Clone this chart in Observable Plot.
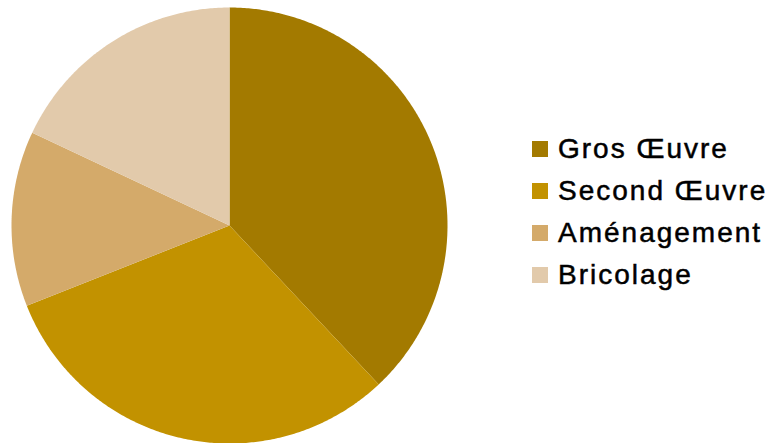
<!DOCTYPE html>
<html>
<head>
<meta charset="utf-8">
<script src="https://cdn.jsdelivr.net/npm/d3@7"></script>
<script src="https://cdn.jsdelivr.net/npm/@observablehq/plot@0.6"></script>
<style>
  html, body { margin: 0; padding: 0; background: #fff; }
  #wrap { position: relative; width: 771px; height: 443px; overflow: hidden; }
  #legend { position: absolute; left: 532px; top: 128px; font-family: "Liberation Sans", Arial, sans-serif; font-size: 28px; letter-spacing: 2px; -webkit-text-stroke: 0.5px #000; color: #000; }
  .item { display: flex; align-items: center; height: 42px; white-space: nowrap; }
  .sw { width: 16px; height: 16px; margin-right: 10px; }
</style>
</head>
<body>
<div id="wrap"><div id="legend"></div></div>
<script>
const categories = ["Gros Œuvre", "Second Œuvre", "Aménagement", "Bricolage"];
const values = [38, 31, 13, 18];
const colors = ["#A37A00", "#C29200", "#D4AA6A", "#E2CAAB"];

const data = categories.map((c, i) => ({label: c, value: values[i]}));
const arcs = d3.pie().sort(null).value(d => d.value)(data);

// Build polygon outlines of each slice (unit circle) from the pie angles
const pts = [];
for (const a of arcs) {
  pts.push({label: a.data.label, x: 0, y: 0});
  const n = Math.max(2, Math.ceil((a.endAngle - a.startAngle) / (Math.PI / 360)));
  for (let k = 0; k <= n; k++) {
    const t = a.startAngle + (a.endAngle - a.startAngle) * k / n;
    pts.push({label: a.data.label, x: Math.sin(t), y: Math.cos(t)});
  }
}

const chart = Plot.plot({
  width: 771,
  height: 443,
  x: {domain: [-1, 1], range: [11, 447], axis: null},
  y: {domain: [-1, 1], range: [443, 7], axis: null},
  color: {domain: categories, range: colors},
  marks: [
    Plot.line(pts, {x: "x", y: "y", z: "label", fill: "label", stroke: null, curve: "linear-closed"})
  ]
});
document.getElementById("wrap").prepend(chart);

const legend = document.getElementById("legend");
categories.forEach((c, i) => {
  const row = document.createElement("div");
  row.className = "item";
  const sw = document.createElement("div");
  sw.className = "sw";
  sw.style.background = colors[i];
  const tx = document.createElement("span");
  tx.textContent = c;
  row.append(sw, tx);
  legend.append(row);
});
</script>
</body>
</html>
